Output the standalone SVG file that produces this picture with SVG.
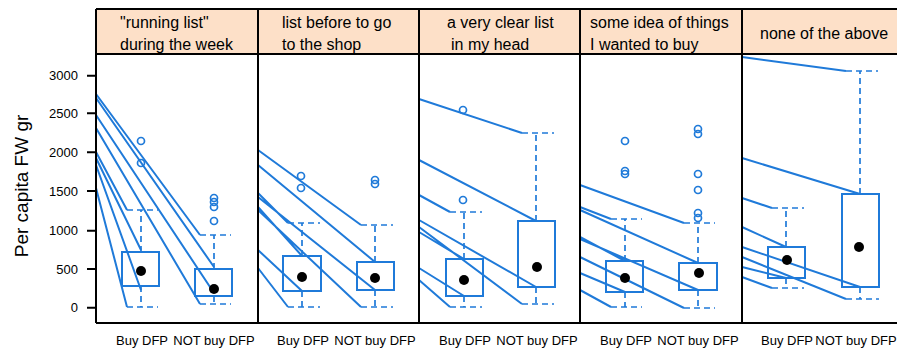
<svg xmlns="http://www.w3.org/2000/svg" width="897" height="354" viewBox="0 0 897 354">
<style>
.ln{stroke:#1f7ad9;stroke-width:2;fill:none}
.box{fill:none;stroke:#1f7ad9;stroke-width:2}
.wh{stroke:#1f7ad9;stroke-width:1.7;stroke-dasharray:6 4;fill:none}
.out{fill:none;stroke:#1f7ad9;stroke-width:1.7}
.med{fill:#000}
.fr{stroke:#000;stroke-width:2;fill:none}
.t{font-family:"Liberation Sans",Arial,sans-serif;fill:#000}
.st{font-size:16px}
.tk{font-size:13px;text-anchor:end}
.xl{font-size:13px;text-anchor:middle}
</style>
<rect x="0" y="0" width="897" height="354" fill="#fff"/>
<g id="strips">
<rect x="96" y="9" width="810" height="45" fill="#fde0c8"/>
<text class="t st" x="120" y="28">"running list"</text>
<text class="t st" x="120" y="50">during the week</text>
<text class="t st" x="282" y="28">list before to go</text>
<text class="t st" x="282" y="50">to the shop</text>
<text class="t st" x="447" y="28">a very clear list</text>
<text class="t st" x="451" y="50">in my head</text>
<text class="t st" x="590" y="28">some idea of things</text>
<text class="t st" x="590" y="50">I wanted to buy</text>
<text class="t st" x="760" y="39">none of the above</text>
</g>
<g id="axis">
<g class="fr">
<path d="M87 307.7H96M87 269H96M87 230.7H96M87 191H96M87 152.3H96M87 113.3H96M87 75.7H96"/>
</g>
<text class="t tk" x="78" y="312.2">0</text>
<text class="t tk" x="78" y="273.5">500</text>
<text class="t tk" x="78" y="235.2">1000</text>
<text class="t tk" x="78" y="195.5">1500</text>
<text class="t tk" x="78" y="156.8">2000</text>
<text class="t tk" x="78" y="117.8">2500</text>
<text class="t tk" x="78" y="80.2">3000</text>
<text class="t" font-size="19" text-anchor="middle" transform="translate(28,186) rotate(-90)">Per capita FW gr</text>
</g>
<g id="connectors">
<path class="ln" d="M96 94L200 235M96 98L214 267M96 115L214 293M96 128L200 304M96 152L127 210M96 158L141 250M96 165L141 290M96 188L127 307"/>
<path class="ln" d="M258 150L361 225M258 165L375 262M258 193L288 223M258 197L375 290M258 207L302 256M258 210L361 307M258 250L302 291M258 268L288 307"/>
<path class="ln" d="M419 99L522 133M419 160L536 221M419 195L450 212M419 220L536 287M419 227L522 304M419 232L464 259M419 268L464 296M419 280L450 307"/>
<path class="ln" d="M580 185L684 223M580 207L611 219M580 210L698 263M580 237L625 261M580 239L698 290M580 257L684 308M580 273L625 292M580 290L611 307"/>
<path class="ln" d="M742 57L846 71M742 158L860 194M742 198L772 208M742 227L786 247M742 247L860 287M742 257L846 299M742 267L786 278M742 277L772 288"/>
</g>
<g id="panel1">
<rect class="box" x="122" y="252" width="37" height="34"/>
<path class="wh" d="M141 252V210M127 210H158M141 286V307M127 307H158"/>
<circle class="med" cx="141" cy="271" r="5"/>
<circle class="out" cx="141" cy="141" r="3.5"/><circle class="out" cx="141" cy="163" r="3.5"/>
<rect class="box" x="195" y="269" width="37" height="27"/>
<path class="wh" d="M214 269V235M200 235H231M214 296V304M200 304H231"/>
<circle class="med" cx="214" cy="289" r="5"/>
<circle class="out" cx="214" cy="198" r="3.5"/><circle class="out" cx="214" cy="202" r="3.5"/><circle class="out" cx="214" cy="207" r="3.5"/><circle class="out" cx="214" cy="221" r="3.5"/>
<text class="t xl" x="142" y="345">Buy DFP</text>
<text class="t xl" x="214" y="345">NOT buy DFP</text>
</g>
<g id="panel2">
<rect class="box" x="283" y="256" width="38" height="35"/>
<path class="wh" d="M302 256V223M288 223H320M302 291V307M288 307H320"/>
<circle class="med" cx="302" cy="277" r="5"/>
<circle class="out" cx="301" cy="176" r="3.5"/><circle class="out" cx="301" cy="188" r="3.5"/>
<rect class="box" x="357" y="262" width="37" height="28"/>
<path class="wh" d="M375 262V225M361 225H393M375 290V307M361 307H393"/>
<circle class="med" cx="375" cy="278" r="5"/>
<circle class="out" cx="375" cy="180" r="3.5"/><circle class="out" cx="375" cy="184" r="3.5"/>
<text class="t xl" x="303" y="345">Buy DFP</text>
<text class="t xl" x="375" y="345">NOT buy DFP</text>
</g>
<g id="panel3">
<rect class="box" x="446" y="259" width="37" height="37"/>
<path class="wh" d="M464 259V212M450 212H482M464 296V307M450 307H482"/>
<circle class="med" cx="464" cy="280" r="5"/>
<circle class="out" cx="463" cy="110" r="3.5"/><circle class="out" cx="463" cy="200" r="3.5"/>
<rect class="box" x="518" y="221" width="37" height="66"/>
<path class="wh" d="M536 221V133M522 133H554M536 287V304M522 304H554"/>
<circle class="med" cx="537" cy="267" r="5"/>
<text class="t xl" x="465" y="345">Buy DFP</text>
<text class="t xl" x="537" y="345">NOT buy DFP</text>
</g>
<g id="panel4">
<rect class="box" x="606" y="261" width="37" height="31"/>
<path class="wh" d="M625 261V219M611 219H642M625 292V307M611 307H642"/>
<circle class="med" cx="625" cy="278" r="5"/>
<circle class="out" cx="625" cy="141" r="3.5"/><circle class="out" cx="625" cy="171" r="3.5"/><circle class="out" cx="625" cy="174" r="3.5"/>
<rect class="box" x="679" y="263" width="38" height="27"/>
<path class="wh" d="M698 263V223M684 223H715M698 290V308M684 308H715"/>
<circle class="med" cx="699" cy="273" r="5"/>
<circle class="out" cx="698" cy="129" r="3.5"/><circle class="out" cx="698" cy="134" r="3.5"/><circle class="out" cx="698" cy="174" r="3.5"/><circle class="out" cx="698" cy="190" r="3.5"/><circle class="out" cx="698" cy="213" r="3.5"/><circle class="out" cx="698" cy="218" r="3.5"/>
<text class="t xl" x="626" y="345">Buy DFP</text>
<text class="t xl" x="698" y="345">NOT buy DFP</text>
</g>
<g id="panel5">
<rect class="box" x="768" y="247" width="37" height="31"/>
<path class="wh" d="M786 247V208M772 208H804M786 278V288M772 288H804"/>
<circle class="med" cx="787" cy="260" r="5"/>
<rect class="box" x="842" y="194" width="37" height="93"/>
<path class="wh" d="M860 194V71M846 71H878M860 287V299M846 299H879"/>
<circle class="med" cx="859" cy="247" r="5"/>
<text class="t xl" x="787" y="345">Buy DFP</text>
<text class="t xl" x="856" y="345" font-size="12.6">NOT buy DFP</text>
</g>
<g id="frame" class="fr">
<path d="M96 9H906M96 54H906M96 323H906M96 9V323M258 9V323M419 9V323M580 9V323M742 9V323"/>
</g>
</svg>
